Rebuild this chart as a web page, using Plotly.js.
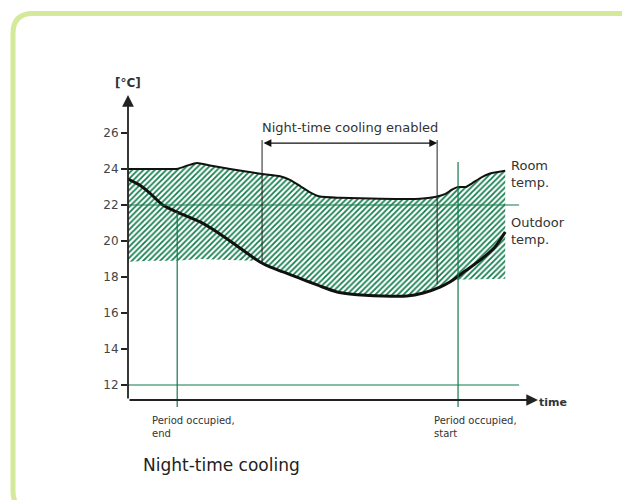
<!DOCTYPE html>
<html>
<head>
<meta charset="utf-8">
<script src="https://cdn.plot.ly/plotly-3.0.1.min.js"></script>
<style>
  html, body { margin: 0; padding: 0; background: #ffffff; }
  #chart { width: 622px; height: 500px; }
</style>
</head>
<body>
<div id="chart"></div>
<script>
// ---- data (time in arbitrary units 0..100, temperatures in °C) ----
const roomTime  = [0, 5.4, 12.2, 14.6, 16.8, 20, 24.9, 32.7, 37.1, 39.5, 42, 44.4, 46.8, 51.7, 61.5, 71.2, 74.9, 77.3, 79, 80.5, 82.4, 83.9, 85.9, 88.3, 92];
const roomTemp  = [24.0, 24.0, 24.02, 24.2, 24.33, 24.2, 24.0, 23.72, 23.6, 23.4, 23.05, 22.7, 22.47, 22.4, 22.35, 22.35, 22.45, 22.6, 22.85, 23.0, 23.0, 23.2, 23.5, 23.75, 23.9];

const outdoorTime = [0, 2.9, 5.4, 8.5, 12, 17.6, 21.7, 27.3, 32.2, 34.6, 37.8, 46.1, 51, 54.1, 62.2, 68, 72, 76.1, 78.5, 82.2, 85.9, 89.5, 92];
const outdoorTemp = [23.44, 23.1, 22.65, 22.0, 21.61, 21.06, 20.5, 19.61, 18.83, 18.56, 18.28, 17.56, 17.17, 17.06, 16.94, 16.94, 17.11, 17.44, 17.72, 18.33, 18.94, 19.67, 20.5];

// lower edge of the hatched (cooling potential) area
const hatchLowTime = [0, 5.4, 11.7, 17.6, 24.9, 31, 32.9, 34.6, 37.8, 46.1, 51, 54.1, 62.2, 68, 72, 76.1, 79, 92];
const hatchLowTemp = [18.85, 18.9, 18.9, 19.0, 18.95, 18.9, 18.78, 18.56, 18.28, 17.56, 17.17, 17.06, 16.94, 16.94, 17.11, 17.44, 17.85, 17.9];

// events
const occupiedEnd = 12, occupiedStart = 80.5;
const coolingStart = 32.7, coolingEnd = 75.4;
const setpointHigh = 22, setpointLow = 12;
const yTicks = [12, 14, 16, 18, 20, 22, 24, 26];
const yTickText = ['12', '14', '16', '18', '20', '22', '24', '26'];

// ---- layout geometry ----
const W = 622, H = 500;
const ML = 128, MR = 84, MT = 95, MB = 92;
const yMin = 10.722, yMax = 28.111, axisY = 11.1667;
const xMin = 0, xMax = 100;
const green = '#13784a';
const ink = '#333333';
const font = 'DejaVu Sans, Arial, sans-serif';

const pw = W - ML - MR, ph = H - MT - MB;
const PX = px => (px - ML) / pw;
const PY = py => (H - MB - py) / ph;

// decorative rounded frame
const fL = 13, fT = 13.5, fR = 639, fB = 511, fr = 20;
const framePath =
  `M ${PX(fL)},${PY(fT + fr)} Q ${PX(fL)},${PY(fT)} ${PX(fL + fr)},${PY(fT)} ` +
  `L ${PX(fR - fr)},${PY(fT)} Q ${PX(fR)},${PY(fT)} ${PX(fR)},${PY(fT + fr)} ` +
  `L ${PX(fR)},${PY(fB - fr)} Q ${PX(fR)},${PY(fB)} ${PX(fR - fr)},${PY(fB)} ` +
  `L ${PX(fL + fr)},${PY(fB)} Q ${PX(fL)},${PY(fB)} ${PX(fL)},${PY(fB - fr)} Z`;

function interp(xs, ys, x) {
  for (let i = 1; i < xs.length; i++) {
    if (x <= xs[i]) {
      const t = (x - xs[i - 1]) / (xs[i] - xs[i - 1]);
      return ys[i - 1] + t * (ys[i] - ys[i - 1]);
    }
  }
  return ys[ys.length - 1];
}

const traces = [
  { x: hatchLowTime, y: hatchLowTemp, mode: 'lines', line: { width: 0, color: 'rgba(0,0,0,0)' },
    hoverinfo: 'skip', showlegend: false },
  { x: roomTime, y: roomTemp, mode: 'lines', name: 'Room temp.',
    line: { color: '#111111', width: 2, shape: 'spline', smoothing: 0.5 },
    fill: 'tonexty', fillcolor: 'rgba(0,0,0,0)',
    fillpattern: { shape: '/', fgcolor: '#157f4e', bgcolor: 'rgba(0,0,0,0)', size: 4, solidity: 0.45 },
    showlegend: false },
  { x: outdoorTime, y: outdoorTemp, mode: 'lines', name: 'Outdoor temp.',
    line: { color: '#111111', width: 3, shape: 'spline', smoothing: 0.8 },
    showlegend: false }
];

const topOfMarkers = 25.61;
const shapes = [
  { type: 'path', xref: 'paper', yref: 'paper', path: framePath,
    line: { color: '#d5e99a', width: 5 }, fillcolor: 'rgba(0,0,0,0)' },
  { type: 'line', xref: 'x', yref: 'y', x0: 0, x1: 95.4, y0: setpointHigh, y1: setpointHigh, line: { color: green, width: 1 } },
  { type: 'line', xref: 'x', yref: 'y', x0: 0, x1: 95.4, y0: setpointLow, y1: setpointLow, line: { color: green, width: 1.2 } },
  { type: 'line', xref: 'x', yref: 'y', x0: occupiedEnd, x1: occupiedEnd, y0: 10.78,
    y1: interp(outdoorTime, outdoorTemp, occupiedEnd), line: { color: green, width: 1.2 } },
  { type: 'line', xref: 'x', yref: 'y', x0: occupiedStart, x1: occupiedStart, y0: 10.78, y1: 24.39,
    line: { color: green, width: 1.2 } },
  { type: 'line', xref: 'x', yref: 'y', x0: coolingStart, x1: coolingStart,
    y0: interp(outdoorTime, outdoorTemp, coolingStart), y1: topOfMarkers, line: { color: '#222', width: 1 } },
  { type: 'line', xref: 'x', yref: 'y', x0: coolingEnd, x1: coolingEnd,
    y0: 17.6, y1: topOfMarkers, line: { color: '#222', width: 1 } }
];

const annotations = [
  // y axis with arrow
  { x: 0, y: yMax, ax: 0, ay: axisY, xref: 'x', yref: 'y', axref: 'x', ayref: 'y',
    text: '', showarrow: true, arrowhead: 2, arrowsize: 1.3, arrowwidth: 1.8, arrowcolor: '#222', standoff: 0 },
  // x axis with arrow
  { x: xMax, y: axisY, ax: 0, ay: axisY, xref: 'x', yref: 'y', axref: 'x', ayref: 'y',
    text: '', showarrow: true, arrowhead: 2, arrowsize: 1.3, arrowwidth: 1.8, arrowcolor: '#222', standoff: 0 },
  // cooling enabled double arrow
  { x: coolingEnd, y: 25.44, ax: coolingStart, ay: 25.44, xref: 'x', yref: 'y', axref: 'x', ayref: 'y',
    text: '', showarrow: true, arrowhead: 2, arrowside: 'end+start', arrowsize: 1.2, arrowwidth: 1.3,
    arrowcolor: '#111', standoff: 0, startstandoff: 0 },
  { x: (coolingStart + coolingEnd) / 2, y: 26.28, xref: 'x', yref: 'y', text: 'Night-time cooling enabled',
    showarrow: false, font: { family: font, size: 13, color: ink }, xanchor: 'center', yanchor: 'middle' },
  { x: 0, y: PY(83), xref: 'paper', yref: 'paper', text: '<b>[°C]</b>', showarrow: false,
    font: { family: font, size: 12, color: ink }, xanchor: 'center', yanchor: 'middle' },
  { x: PX(537), y: PY(402), xref: 'paper', yref: 'paper', text: '<b>time</b>', showarrow: false,
    font: { family: font, size: 11, color: ink }, xanchor: 'left', yanchor: 'middle' },
  { x: 92.9, y: 23.72, xref: 'x', yref: 'y', text: 'Room<br>temp.', showarrow: false, align: 'left',
    font: { family: font, size: 13, color: ink }, xanchor: 'left', yanchor: 'middle' },
  { x: 92.9, y: 20.58, xref: 'x', yref: 'y', text: 'Outdoor<br>temp.', showarrow: false, align: 'left',
    font: { family: font, size: 13, color: ink }, xanchor: 'left', yanchor: 'middle' },
  { x: PX(150), y: PY(426.5), xref: 'paper', yref: 'paper', text: 'Period occupied,<br>end', showarrow: false,
    align: 'left', font: { family: font, size: 10, color: ink }, xanchor: 'left', yanchor: 'middle' },
  { x: PX(432), y: PY(426.5), xref: 'paper', yref: 'paper', text: 'Period occupied,<br>start', showarrow: false,
    align: 'left', font: { family: font, size: 10, color: ink }, xanchor: 'left', yanchor: 'middle' },
  { x: PX(141), y: PY(465), xref: 'paper', yref: 'paper', text: 'Night-time cooling', showarrow: false,
    font: { family: font, size: 17, color: '#222' }, xanchor: 'left', yanchor: 'middle' }
];

const layout = {
  width: W, height: H,
  margin: { l: ML, r: MR, t: MT, b: MB, pad: 0 },
  paper_bgcolor: '#ffffff', plot_bgcolor: 'rgba(0,0,0,0)',
  showlegend: false,
  xaxis: { range: [xMin, xMax], visible: false, fixedrange: true },
  yaxis: { range: [yMin, yMax], tickvals: yTicks, ticktext: yTickText, ticks: 'outside', ticklen: 6,
           tickwidth: 1.3, tickcolor: '#222', showgrid: false, zeroline: false, showline: false,
           tickfont: { family: font, size: 12, color: '#444' }, fixedrange: true },
  shapes: shapes,
  annotations: annotations
};

Plotly.newPlot('chart', traces, layout, { displayModeBar: false, staticPlot: true });
</script>
</body>
</html>
